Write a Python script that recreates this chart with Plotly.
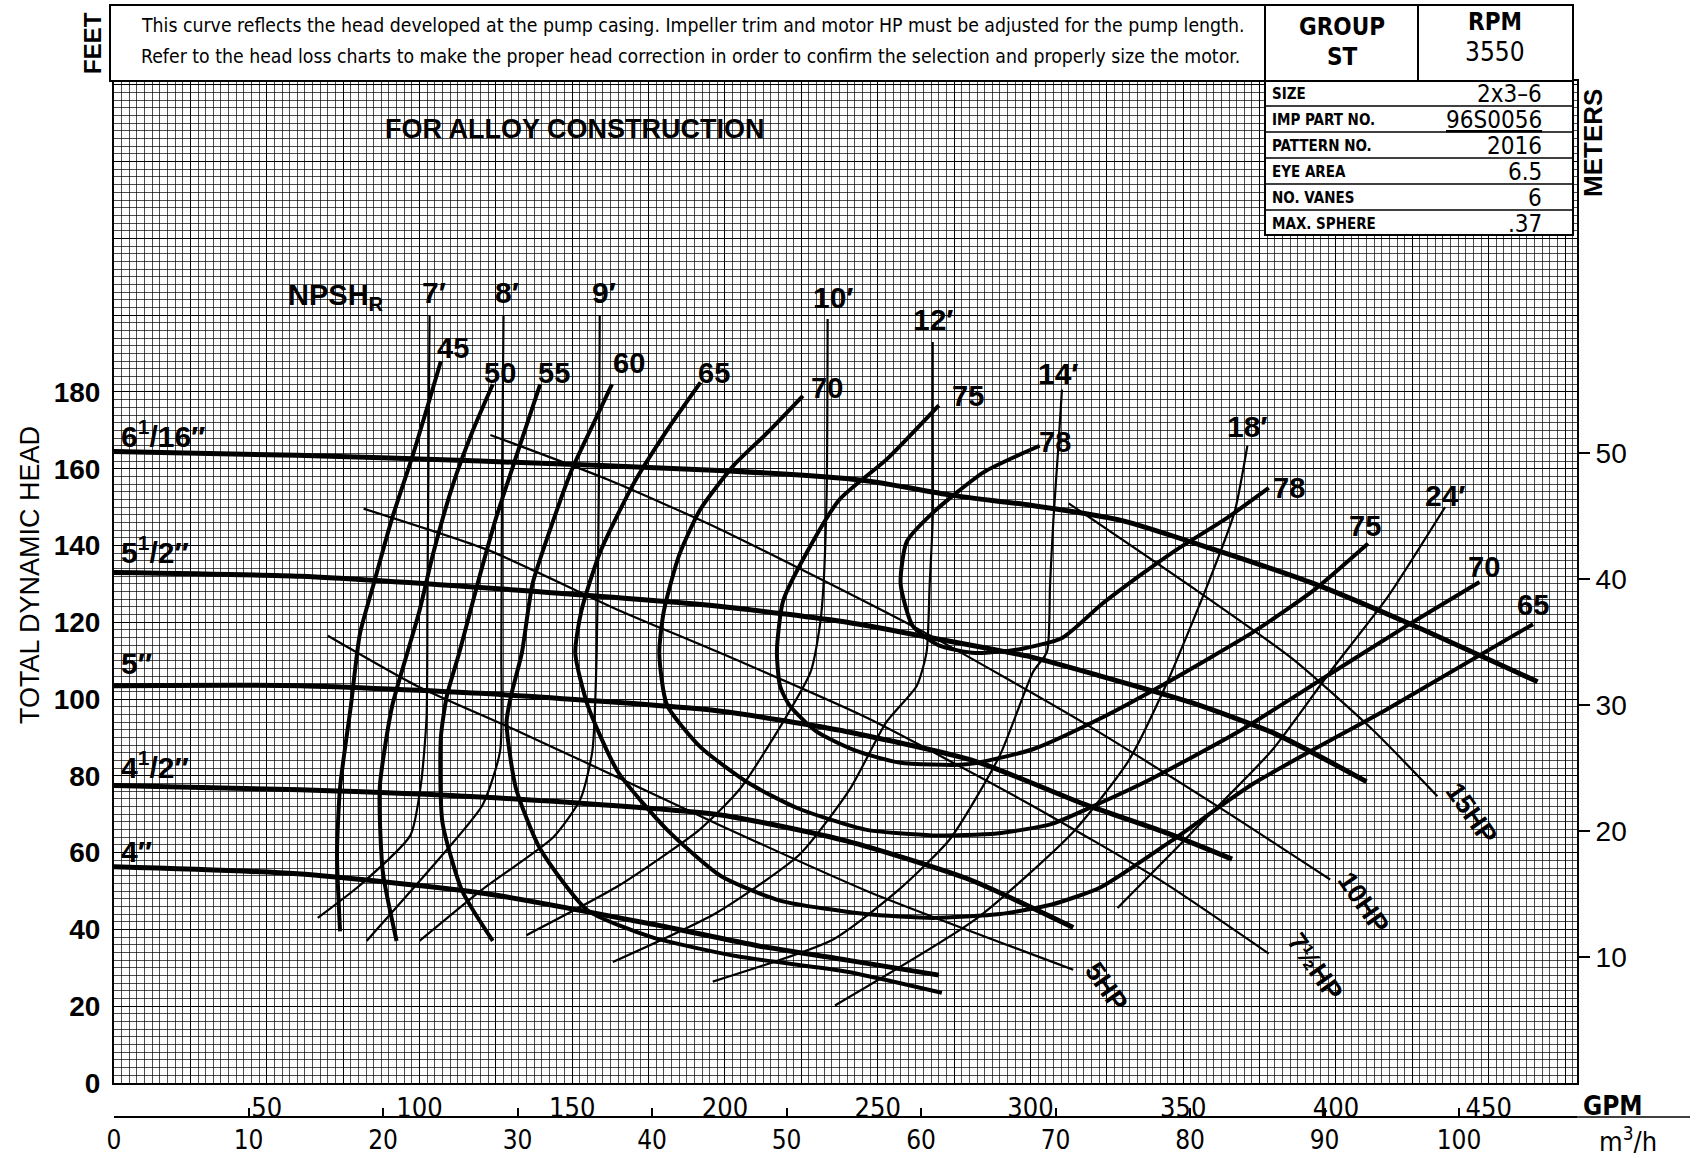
import plotly.graph_objects as go

# ---------------- DATA (flow in GPM, head in feet) ----------------
# Impeller diameter head-capacity curves
IMP_6_1_16_Q = [0, 60, 120, 200, 245, 275, 300, 330, 360, 393, 423, 466]
IMP_6_1_16_H = [164.5, 163.5, 162, 159.5, 157, 153, 150.5, 146.5, 139, 130, 120, 104.5]
IMP_5_1_2_Q = [0, 61, 130, 198, 240, 264, 300, 323, 353, 380, 410]
IMP_5_1_2_H = [133, 132, 128.5, 124.2, 120, 116.5, 111, 106, 99, 91, 78.5]
IMP_5_Q = [0, 61, 120, 198, 240, 282, 318, 345, 366]
IMP_5_H = [103.5, 103.5, 101.5, 96.9, 91.5, 83.8, 72.5, 65, 58.3]
IMP_4_1_2_Q = [0, 61, 120, 198, 240, 280, 314]
IMP_4_1_2_H = [77.5, 76.4, 74.5, 69.9, 63, 53, 40.5]
IMP_4_Q = [0, 60, 122, 176, 211, 240, 270]
IMP_4_H = [56.3, 54.5, 49.3, 41.4, 35.7, 32, 28.1]

# Efficiency curves (%)
EFF45_Q = [107, 98, 91, 85, 80.5, 77.5, 74, 73, 74]
EFF45_H = [188, 164, 147, 130, 117, 98, 77, 59.5, 39.5]
EFF50_Q = [124, 117.5, 111, 104.5, 100, 96, 91, 87, 88, 92.5]
EFF50_H = [182, 170, 156, 138, 123, 112, 98, 77, 55, 37]
EFF55_Q = [139.5, 132, 125, 119, 113, 109, 107, 107.5, 114, 124]
EFF55_H = [182, 164, 147, 130, 112, 101, 90, 68, 50, 37]
EFF60_Q = [163, 156.5, 150, 144, 137, 133.5, 130, 128.5, 131.5, 139.5, 155, 176, 204, 240, 271]
EFF60_H = [182, 171, 160, 147, 130, 112, 101, 94, 77, 61, 45, 38, 33, 29, 23.5]
EFF65_Q = [192, 181, 170, 159, 153, 151, 155, 165, 181, 198.5, 218, 246, 268, 290, 307, 323, 346, 373, 417, 464.5]
EFF65_H = [182.5, 170, 156, 138, 123, 112, 98.5, 81, 66, 54, 47.5, 44, 43, 44, 46.5, 51, 63, 78, 97.5, 119.5]
EFF70_Q = [225.5, 214, 203, 192, 185, 180, 178.5, 181, 192, 208, 224, 246, 268, 289, 307, 323, 339, 368, 397, 423, 447]
EFF70_H = [179, 169.5, 161, 149.5, 137.5, 123, 112, 98.5, 87.5, 78, 71.5, 66, 64.5, 65, 67.5, 73, 79, 91.5, 106, 119, 130.5]
EFF75_Q = [270, 253, 237.5, 227, 219, 217, 218, 221, 230, 243, 257, 279, 301, 323, 344, 373, 393, 410.5]
EFF75_H = [176.5, 162.5, 152, 138.5, 125.5, 112.5, 103.5, 98.5, 91.5, 86.5, 83.5, 83, 87, 95, 104, 117.5, 128.5, 140.5]
EFF78_Q = [303, 284.5, 268, 259.5, 257.5, 261.5, 270, 282, 296.5, 310.5, 323, 335.5, 348, 364, 378]
EFF78_H = [166, 159, 148.5, 141, 130, 119, 114, 112, 113, 116, 124.5, 132, 139, 147, 155]

# NPSHR curves (feet)
NPSH7_Q = [103.3, 103, 102.6, 102.3, 100.5, 97, 80.5, 66.7]
NPSH7_H = [200, 168.5, 126, 95, 78, 64.5, 51.5, 43]
NPSH8_Q = [127.5, 127, 126.8, 126.4, 120.7, 107.6, 82.7]
NPSH8_H = [200, 154.5, 112, 86.5, 72.5, 59.5, 37]
NPSH9_Q = [159, 158.7, 158, 156.6, 152.7, 143.8, 120.7, 100]
NPSH9_H = [200, 154.5, 112, 86.5, 74, 64, 50.5, 37]
NPSH10_Q = [233.6, 233.3, 232.2, 231.2, 228, 219, 205, 191.7, 165, 135]
NPSH10_H = [199, 154.5, 129, 120, 107, 94, 76.7, 66, 51.3, 38.5]
NPSH12_Q = [268, 268, 268, 267, 266, 262.8, 252.8, 241, 224.4, 197, 163.3]
NPSH12_H = [193, 173, 146.7, 129.8, 112.3, 103.5, 94, 76.7, 59.5, 44.2, 31.5]
NPSH14_Q = [310.3, 309, 307.5, 306.4, 305.4, 300.8, 290, 273.8, 257.4, 235.4, 196]
NPSH14_H = [180.6, 164.3, 146.7, 129.8, 112.3, 107, 85.4, 63.7, 50.7, 37.4, 26.4]
NPSH18_Q = [371, 366.8, 358, 344, 332, 314, 282.3, 236]
NPSH18_H = [166, 148.7, 129.8, 103, 83.8, 65.4, 42.8, 20.2]
NPSH24_Q = [435.7, 417, 398, 379, 353, 328.5]
NPSH24_H = [150, 126.7, 107, 86.6, 65.4, 45.6]

# Motor horsepower lines
HP5_Q = [70, 99, 130.7, 159, 198.5, 246.8, 314]
HP5_H = [116.5, 103.5, 92.2, 81.8, 67.1, 49.9, 29.5]
HP7_5_Q = [81.7, 122.5, 164.8, 198.5, 246.8, 300, 342.7, 378]
HP7_5_H = [149.6, 138.8, 123.3, 112, 95, 72.5, 52.7, 33.7]
HP10_Q = [123.2, 161.6, 198.5, 264.5, 317.8, 360.4, 398.1]
HP10_H = [168.8, 157.2, 144.2, 117.7, 93.6, 72.5, 53]
HP15_Q = [312.5, 353.3, 385.6, 412, 433.2]
HP15_H = [151, 128.9, 110.6, 92, 74.7]

# Labels
IMP_LABELS = ["6<sup>1</sup>/16″", "5<sup>1</sup>/2″", "5″", "4<sup>1</sup>/2″", "4″"]
IMP_LABEL_H = [169.1, 138.8, 109.2, 82.9, 60.3]
EFF_TOP_TEXT = ["45", "50", "55", "60", "65", "70", "75", "78"]
EFF_TOP_Q = [111, 126.5, 144, 168.5, 196.5, 233.5, 279.5, 308]
EFF_TOP_H = [191.5, 185, 185, 187.5, 185, 181, 179, 167]
EFF_RIGHT_TEXT = ["78", "75", "70", "65"]
EFF_RIGHT_Q = [384.5, 409.5, 448.5, 464.5]
EFF_RIGHT_H = [155, 145, 134.5, 124.5]
NPSH_TEXT = ["7′", "8′", "9′", "10′", "12′", "14′", "18′", "24′"]
NPSH_Q = [104.7, 128.5, 160.5, 235.4, 268.1, 309.3, 371.1, 435.7]
NPSH_H = [205.8, 205.8, 205.8, 204.7, 199, 184.9, 171, 153]
HP_TEXT = ["5HP", "7½HP", "10HP", "15HP"]
HP_Q = [324.9, 393.1, 409.1, 444.6]
HP_H = [25, 30.1, 47, 70.2]

GPM_TICKS = list(range(0, 476, 25))
FT_TICKS = list(range(0, 261, 20))
M_TICKS = [10, 20, 30, 40, 50]
M3H_TICKS = list(range(0, 101, 10))

TABLE_LABELS = ["SIZE", "IMP PART NO.", "PATTERN NO.", "EYE AREA", "NO. VANES", "MAX. SPHERE"]
TABLE_VALUES = ["2x3–6", "<u>96S0056</u>", "2016", "6.5", "6", ".37"]

GPM_PER_M3H = 4.402868
FT_PER_M = 3.28084

# ---------------- LAYOUT GEOMETRY (pixels) ----------------
W, H = 1701, 1158
X_LEFT, X_RIGHT, Y_TOP, Y_BOTTOM = 114, 1577, 81, 1083
XMAX, YMAX = 478.9, 261.0


def px(x):
    return x / W


def py(y):
    return 1 - y / H


NARROW = "DejaVu Sans Condensed, Liberation Sans Narrow, Arial Narrow, sans-serif"
MAIN = "Liberation Sans, Arial, Helvetica, sans-serif"

fig = go.Figure()


def add_curve(q, h, width):
    fig.add_trace(go.Scatter(
        x=q, y=h, mode="lines",
        line=dict(color="black", width=width, shape="spline", smoothing=0.6),
        hoverinfo="skip", showlegend=False))


for q, h in [(IMP_6_1_16_Q, IMP_6_1_16_H), (IMP_5_1_2_Q, IMP_5_1_2_H), (IMP_5_Q, IMP_5_H),
             (IMP_4_1_2_Q, IMP_4_1_2_H), (IMP_4_Q, IMP_4_H)]:
    add_curve(q, h, 5)
for q, h in [(EFF45_Q, EFF45_H), (EFF50_Q, EFF50_H), (EFF55_Q, EFF55_H), (EFF60_Q, EFF60_H),
             (EFF65_Q, EFF65_H), (EFF70_Q, EFF70_H), (EFF75_Q, EFF75_H), (EFF78_Q, EFF78_H)]:
    add_curve(q, h, 4)
for q, h in [(NPSH7_Q, NPSH7_H), (NPSH8_Q, NPSH8_H), (NPSH9_Q, NPSH9_H), (NPSH10_Q, NPSH10_H),
             (NPSH12_Q, NPSH12_H), (NPSH14_Q, NPSH14_H), (NPSH18_Q, NPSH18_H), (NPSH24_Q, NPSH24_H)]:
    add_curve(q, h, 2.2)
for q, h in [(HP5_Q, HP5_H), (HP7_5_Q, HP7_5_H), (HP10_Q, HP10_H), (HP15_Q, HP15_H)]:
    add_curve(q, h, 2.2)

# invisible traces to activate secondary axes
fig.add_trace(go.Scatter(x=[None], y=[None], yaxis="y2", showlegend=False, hoverinfo="skip"))
fig.add_trace(go.Scatter(x=[None], y=[None], xaxis="x2", showlegend=False, hoverinfo="skip"))

ann = []
for t, h in zip(IMP_LABELS, IMP_LABEL_H):
    ann.append(dict(x=1.5, y=h, text=t, xanchor="left", yanchor="middle", showarrow=False,
                    font=dict(family=MAIN, size=30, color="black", weight="bold")))
for t, q, h in zip(EFF_TOP_TEXT + EFF_RIGHT_TEXT, EFF_TOP_Q + EFF_RIGHT_Q, EFF_TOP_H + EFF_RIGHT_H):
    ann.append(dict(x=q, y=h, text=t, showarrow=False,
                    font=dict(family=MAIN, size=29, color="black", weight="bold")))
for t, q, h in zip(NPSH_TEXT, NPSH_Q, NPSH_H):
    ann.append(dict(x=q, y=h, text=t, showarrow=False,
                    font=dict(family=MAIN, size=30, color="black", weight="bold")))
ann.append(dict(x=72.8, y=204.7, text="NPSH<sub>R</sub>", showarrow=False,
                font=dict(family=MAIN, size=29, color="black", weight="bold")))
for t, q, h in zip(HP_TEXT, HP_Q, HP_H):
    ann.append(dict(x=q, y=h, text=t, showarrow=False, textangle=55,
                    font=dict(family=MAIN, size=27, color="black", weight="bold")))
ann.append(dict(x=150.9, y=248.4, text="FOR ALLOY CONSTRUCTION", showarrow=False,
                font=dict(family=MAIN, size=27, color="black", weight="bold")))


# paper annotations
def pann(x, y, text, size, family=MAIN, bold=False, xanchor="center", angle=0):
    ann.append(dict(xref="paper", yref="paper", x=px(x), y=py(y), text=text, showarrow=False,
                    xanchor=xanchor, yanchor="middle", textangle=angle,
                    font=dict(family=family, size=size, color="black",
                              weight="bold" if bold else "normal")))


pann(139, 25, "This curve reflects the head developed at the pump casing. Impeller trim and motor HP must be adjusted for the pump length.",
     19.3, NARROW, xanchor="left")
pann(139, 57, "Refer to the head loss charts to make the proper head correction in order to confirm the selection and properly size the motor.",
     19.3, NARROW, xanchor="left")
pann(1342, 27, "GROUP", 24, NARROW, bold=True)
pann(1342, 57, "ST", 24, NARROW, bold=True)
pann(1495, 22, "RPM", 24, NARROW, bold=True)
pann(1495, 52, "3550", 26, NARROW)
row_y = [81, 106, 132, 158, 184, 210, 235]
for i, (lab, val) in enumerate(zip(TABLE_LABELS, TABLE_VALUES)):
    yc = (row_y[i] + row_y[i + 1]) / 2 + 1
    pann(1270, yc, lab, 15, NARROW, bold=True, xanchor="left")
    pann(1544, yc, val, 24, NARROW, xanchor="right")
pann(92, 43, "FEET", 24, MAIN, bold=True, angle=-90)
pann(1593, 143, "METERS", 26, MAIN, bold=True, angle=-90)
pann(30, 575, "TOTAL DYNAMIC HEAD", 27, MAIN, angle=-90)
pann(1613, 1106, "GPM", 26, NARROW, bold=True)
pann(1628, 1139, "m<sup>3</sup>/h", 27, NARROW)

shapes = []
L = dict(color="black", width=2)
shapes.append(dict(type="rect", xref="paper", yref="paper", x0=px(110), x1=px(1573), y0=py(81), y1=py(5),
                   fillcolor="white", line=L, layer="above"))
for xv in [1265, 1418]:
    shapes.append(dict(type="line", xref="paper", yref="paper", x0=px(xv), x1=px(xv), y0=py(81), y1=py(5), line=L))
shapes.append(dict(type="rect", xref="paper", yref="paper", x0=px(1265), x1=px(1573), y0=py(235), y1=py(81),
                   fillcolor="white", line=L, layer="above"))
for yv in row_y[1:-1]:
    shapes.append(dict(type="line", xref="paper", yref="paper", x0=px(1265), x1=px(1573), y0=py(yv), y1=py(yv),
                       line=dict(color="black", width=1.5)))
# extension of m3/h axis line
shapes.append(dict(type="line", xref="paper", yref="paper", x0=px(X_RIGHT), x1=px(1690), y0=py(1117), y1=py(1117),
                   line=dict(color="black", width=1.5)))

x_dom = [px(X_LEFT), px(X_RIGHT)]
y_dom = [py(Y_BOTTOM), py(Y_TOP)]

fig.update_layout(
    width=W, height=H, margin=dict(l=0, r=0, t=0, b=0, autoexpand=False),
    paper_bgcolor="white", plot_bgcolor="white",
    showlegend=False,
    xaxis=dict(domain=x_dom, range=[0, XMAX], tickmode="array", tickvals=GPM_TICKS,
               ticktext=[str(v) if (v % 50 == 0 and v > 0) else "" for v in GPM_TICKS],
               showgrid=True, gridcolor="black", gridwidth=1.4,
               minor=dict(tick0=0, dtick=2.5, showgrid=True, gridcolor="rgba(0,0,0,0.7)", gridwidth=0.9),
               showline=True, mirror=True, linecolor="black", linewidth=2, zeroline=False,
               ticks="", ticklabelstandoff=0,
               tickfont=dict(family=NARROW, size=27, color="black")),
    yaxis=dict(domain=y_dom, range=[0, YMAX], tickmode="array", tickvals=FT_TICKS,
               ticktext=[str(v) if v <= 180 else "" for v in FT_TICKS],
               showgrid=True, gridcolor="black", gridwidth=1.4,
               minor=dict(tick0=0, dtick=2, showgrid=True, gridcolor="rgba(0,0,0,0.7)", gridwidth=0.9),
               showline=True, mirror=True, linecolor="black", linewidth=2, zeroline=False,
               ticks="", ticklabelstandoff=6,
               tickfont=dict(family=MAIN, size=28, color="black", weight="bold")),
    yaxis2=dict(overlaying="y", side="right", anchor="x", range=[0, YMAX / FT_PER_M],
                tickmode="array", tickvals=M_TICKS, ticks="outside", ticklen=12, tickwidth=2,
                tickcolor="black", showgrid=False, zeroline=False, showline=False,
                tickfont=dict(family=MAIN, size=28, color="black")),
    xaxis2=dict(overlaying="x", anchor="free", position=py(1117), range=[0, XMAX / GPM_PER_M3H],
                tickmode="array", tickvals=M3H_TICKS, ticks="inside", ticklen=8, tickwidth=1.5,
                tickcolor="black", showgrid=False, zeroline=False, showline=True, linecolor="black",
                linewidth=1.5, side="bottom", ticklabelstandoff=0,
                tickfont=dict(family=NARROW, size=26, color="black")),
    annotations=ann, shapes=shapes,
)

fig.write_html("out.html", config={"displayModeBar": False},
               post_script="document.body.style.margin='0';")
